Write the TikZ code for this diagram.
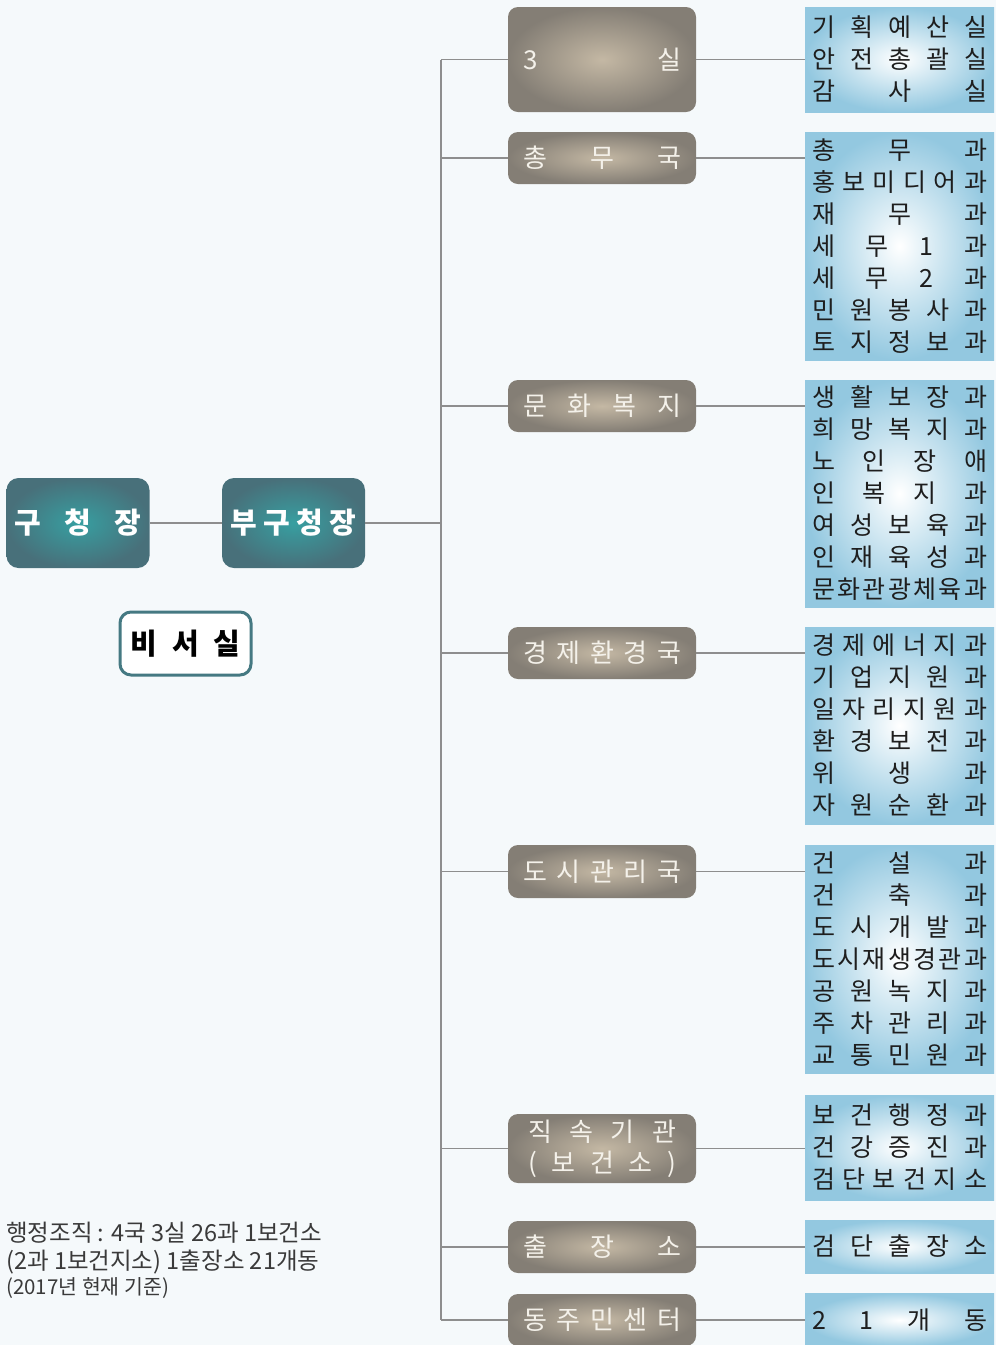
\documentclass[tikz,border=0pt]{standalone}
\usepackage{fontspec}
\setmainfont{Noto Sans CJK KR}
\definecolor{bg}{HTML}{F5F9FB}
\definecolor{grayin}{HTML}{C4B8A4}
\definecolor{grayout}{HTML}{847E75}
\definecolor{tealin}{HTML}{379FA1}
\definecolor{tealout}{HTML}{48707A}
\definecolor{blueout}{HTML}{93C8E0}
\definecolor{linec}{HTML}{8E8E8E}
\definecolor{txt}{HTML}{1E1E1E}
\definecolor{notec}{HTML}{3A3A3A}
\definecolor{graytxt}{HTML}{F4F1EA}
\newcommand\spreadrow[2]{\makebox[#1][s]{\spaceskip=0pt plus 1fil\relax #2}}
\newcommand\brow[1]{\spreadrow{175pt}{#1}}
\newcommand\grow[1]{\spreadrow{158pt}{#1}}
\newcommand\gnrow[1]{\spreadrow{148pt}{#1}}
\newcommand\trow[1]{\spreadrow{126pt}{#1}}
\begin{document}
\begin{tikzpicture}[x=1pt,y=-1pt,
  graybox/.style={rounded corners=10pt, shading=radial, inner color=grayin, outer color=grayout,
    minimum width=188pt, text=graytxt, font=\fontsize{26}{31}\selectfont, inner sep=0pt, align=center},
  bluebox/.style={shading=radial, inner color=white, outer color=blueout,
    minimum width=189pt, text=txt, font=\fontsize{25}{32}\selectfont, inner sep=0pt, align=left},
  tealbox/.style={rounded corners=12pt, shading=radial, inner color=tealin, outer color=tealout,
    minimum width=143pt, minimum height=90pt, text=white, font=\fontsize{29}{34}\selectfont\bfseries, inner sep=0pt},
  secbox/.style={rounded corners=11pt, draw=tealout!80!tealin, line width=3pt, fill=white,
    minimum width=131pt, minimum height=63pt, text=black, font=\fontsize{29}{34}\selectfont\bfseries, inner sep=0pt},
  conn/.style={draw=linec, line width=1.3pt},
  note/.style={anchor=base west, inner sep=0pt, text=notec}
]
\fill[bg] (0,0) rectangle (996,1345);
\useasboundingbox (0,0) rectangle (996,1345);

% left column
\node[tealbox] (mayor) at (78,523) {\trow{구 청 장}};
\node[tealbox] (vice) at (293.5,523) {\trow{부 구 청 장}};
\node[secbox] (sec) at (185.5,643.5) {\spreadrow{110pt}{비 서 실}};

% gray department boxes
\node[graybox, minimum height=105pt] (g1) at (602,59.5) {\grow{3 실}};
\node[graybox, minimum height=52pt] (g2) at (602,158) {\grow{총 무 국}};
\node[graybox, minimum height=52pt] (g3) at (602,406) {\grow{문 화 복 지}};
\node[graybox, minimum height=52pt] (g4) at (602,653) {\grow{경 제 환 경 국}};
\node[graybox, minimum height=53pt] (g5) at (602,871.5) {\grow{도 시 관 리 국}};
\node[graybox, minimum height=69pt] (g6) at (602,1148.5) {\gnrow{직 속 기 관}\\\gnrow{( 보 건 소 )}};
\node[graybox, minimum height=52pt] (g7) at (602,1247) {\grow{출 장 소}};
\node[graybox, minimum height=52pt] (g8) at (602,1320) {\grow{동 주 민 센 터}};

% blue boxes
\node[bluebox, minimum height=105pt] (b1) at (899.5,59.5)
  {\brow{기 획 예 산 실}\\\brow{안 전 총 괄 실}\\\brow{감 사 실}};
\node[bluebox, minimum height=228pt] (b2) at (899.5,246)
  {\brow{총 무 과}\\\brow{홍 보 미 디 어 과}\\\brow{재 무 과}\\\brow{세 무 1 과}\\\brow{세 무 2 과}\\\brow{민 원 봉 사 과}\\\brow{토 지 정 보 과}};
\node[bluebox, minimum height=227pt] (b3) at (899.5,493.5)
  {\brow{생 활 보 장 과}\\\brow{희 망 복 지 과}\\\brow{노 인 장 애}\\\brow{인 복 지 과}\\\brow{여 성 보 육 과}\\\brow{인 재 육 성 과}\\\brow{문 화 관 광 체 육 과}};
\node[bluebox, minimum height=197pt] (b4) at (899.5,725.5)
  {\brow{경 제 에 너 지 과}\\\brow{기 업 지 원 과}\\\brow{일 자 리 지 원 과}\\\brow{환 경 보 전 과}\\\brow{위 생 과}\\\brow{자 원 순 환 과}};
\node[bluebox, minimum height=228pt] (b5) at (899.5,959)
  {\brow{건 설 과}\\\brow{건 축 과}\\\brow{도 시 개 발 과}\\\brow{도 시 재 생 경 관 과}\\\brow{공 원 녹 지 과}\\\brow{주 차 관 리 과}\\\brow{교 통 민 원 과}};
\node[bluebox, minimum height=105pt] (b6) at (899.5,1147.5)
  {\brow{보 건 행 정 과}\\\brow{건 강 증 진 과}\\\brow{검 단 보 건 지 소}};
\node[bluebox, minimum height=53pt] (b7) at (899.5,1246.5) {\brow{검 단 출 장 소}};
\node[bluebox, minimum height=53pt] (b8) at (899.5,1320) {\brow{2 1 개 동}};

% spine
\coordinate (spine) at (441,523);
\draw[conn] (mayor.east) -- (vice.west);
\draw[conn] (vice.east) -- (spine);
\draw[conn] (spine |- g1.west) -- (spine |- g8.west);
\foreach \i in {1,...,8}{
  \draw[conn] (spine |- g\i.west) -- (g\i.west);
  \draw[conn] (g\i.east) -- (g\i.east -| b\i.west);
}

% note
\node[note, font=\fontsize{23.5}{28}\selectfont] (n1) at (6,1241) {행정조직 : 4국 3실 26과 1보건소};
\node[note, font=\fontsize{23.5}{28}\selectfont] (n2) at (6,1269) {(2과 1보건지소) 1출장소 21개동};
\node[note, font=\fontsize{20.5}{24}\selectfont] (n3) at (6,1294) {(2017년 현재 기준)};
\end{tikzpicture}
\end{document}
